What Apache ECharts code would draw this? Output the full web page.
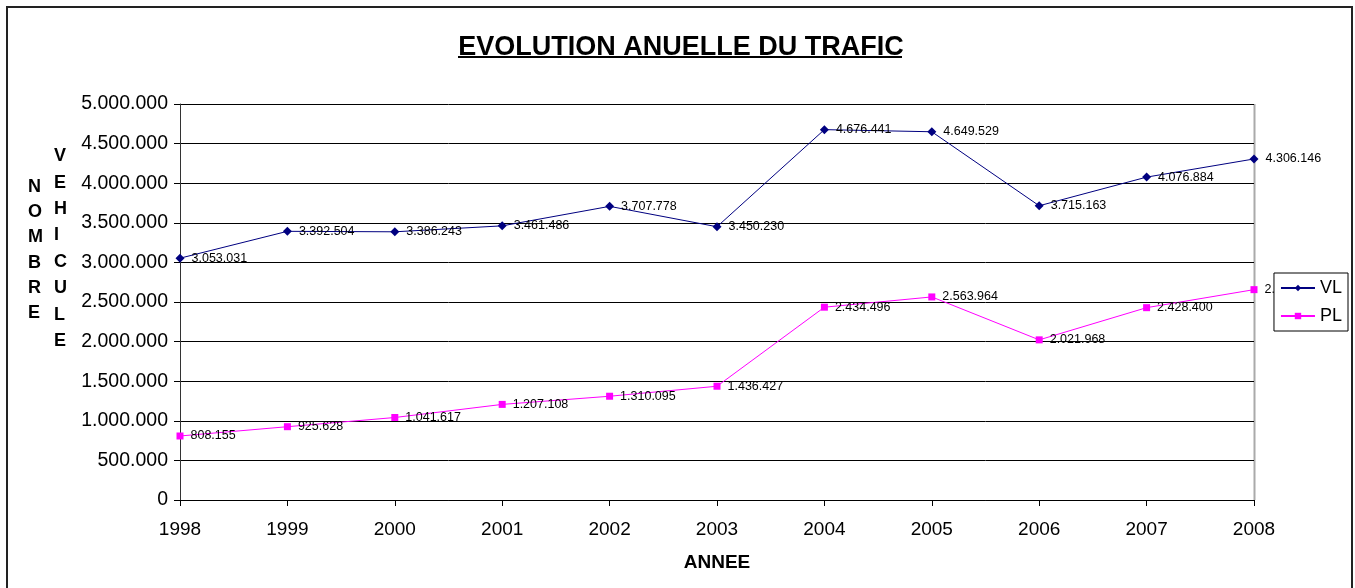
<!DOCTYPE html>
<html>
<head>
<meta charset="utf-8">
<script src="https://cdn.jsdelivr.net/npm/echarts@6/dist/echarts.min.js"></script>
<style>
html, body { margin: 0; padding: 0; background: #fff; }
#main { width: 1355px; height: 588px; }
</style>
</head>
<body>
<div id="main"></div>
<script>
// donnees du graphique
var annees = ['1998', '1999', '2000', '2001', '2002', '2003', '2004', '2005', '2006', '2007', '2008'];
var vl = [3053031, 3392504, 3386243, 3461486, 3707778, 3450230, 4676441, 4649529, 3715163, 4076884, 4306146];
var pl = [808155, 925628, 1041617, 1207108, 1310095, 1436427, 2434496, 2563964, 2021968, 2428400, 2656000];
var yTicks = [0, 500000, 1000000, 1500000, 2000000, 2500000, 3000000, 3500000, 4000000, 4500000, 5000000];

// format 1.234.567
function fmt(v) {
    return String(v).replace(/\B(?=(\d{3})+(?!\d))/g, '.');
}

var font = 'Arial, "Liberation Sans", sans-serif';
var myChart = echarts.init(document.getElementById('main'));

var labelStyle = {
    show: true,
    position: 'right',
    distance: 7,
    color: '#000',
    fontFamily: font,
    fontSize: 12.5,
    formatter: function (p) { return fmt(p.value); }
};

var option = {
    animation: false,
    backgroundColor: '#fff',
    title: {
        text: 'EVOLUTION ANUELLE DU TRAFIC',
        left: 676,
        textAlign: 'center',
        top: 29,
        textStyle: { fontFamily: font, fontSize: 27, fontWeight: 'bold', color: '#000' }
    },
    legend: {
        right: 7,
        top: 273,
        orient: 'vertical',
        itemWidth: 34,
        itemHeight: 8,
        itemGap: 10,
        padding: [6, 6, 6, 6],
        borderColor: '#000',
        borderWidth: 1,
        backgroundColor: '#fff',
        z: 10,
        textStyle: { fontFamily: font, fontSize: 18, color: '#000' },
        data: ['VL', 'PL']
    },
    grid: {
        left: 180,
        right: 101,
        top: 104,
        bottom: 88
    },
    xAxis: {
        type: 'category',
        data: annees,
        boundaryGap: false,
        name: 'ANNEE',
        nameLocation: 'middle',
        nameGap: 53,
        nameTextStyle: { fontFamily: font, fontSize: 19, fontWeight: 'bold', color: '#000' },
        axisLine: { lineStyle: { color: '#000', width: 1 } },
        axisTick: { show: true, length: 6, lineStyle: { color: '#000' } },
        axisLabel: { fontFamily: font, fontSize: 19, color: '#000', margin: 20 }
    },
    yAxis: {
        type: 'value',
        min: 0,
        max: 5000000,
        interval: 500000,
        axisLine: { show: true, lineStyle: { color: '#333', width: 1 } },
        axisTick: { show: true, length: 6, lineStyle: { color: '#000' } },
        axisLabel: {
            fontFamily: font, fontSize: 19.5, color: '#000', margin: 12,
            formatter: function (v) { return fmt(v); }
        },
        splitLine: { show: true, lineStyle: { color: '#000', width: 1 } }
    },
    graphic: [
        { type: 'rect', shape: { x: 7, y: 7, width: 1345, height: 600 },
          style: { fill: 'none', stroke: '#222', lineWidth: 2 }, silent: true },
        { type: 'rect', shape: { x: 458, y: 56, width: 444, height: 2 },
          style: { fill: '#000' }, silent: true },
        { type: 'line', shape: { x1: 1254.5, y1: 104, x2: 1254.5, y2: 500 },
          style: { stroke: '#aaa', lineWidth: 2 }, silent: true },
        { type: 'text', left: 28, top: 174,
          style: { text: 'N\nO\nM\nB\nR\nE', font: 'bold 18px Arial', fill: '#000', lineHeight: 25.3, align: 'center' } },
        { type: 'text', left: 54, top: 143,
          style: { text: 'V\nE\nH\nI\nC\nU\nL\nE', font: 'bold 18px Arial', fill: '#000', lineHeight: 26.4, align: 'center' } }
    ],
    series: [
        {
            name: 'VL',
            type: 'line',
            data: vl,
            symbol: 'diamond',
            symbolSize: 9,
            lineStyle: { color: '#000080', width: 1 },
            itemStyle: { color: '#000080' },
            label: labelStyle
        },
        {
            name: 'PL',
            type: 'line',
            data: pl,
            symbol: 'rect',
            symbolSize: 7,
            lineStyle: { color: '#ff00ff', width: 1 },
            itemStyle: { color: '#ff00ff' },
            label: labelStyle
        }
    ]
};

myChart.setOption(option);
</script>
</body>
</html>
